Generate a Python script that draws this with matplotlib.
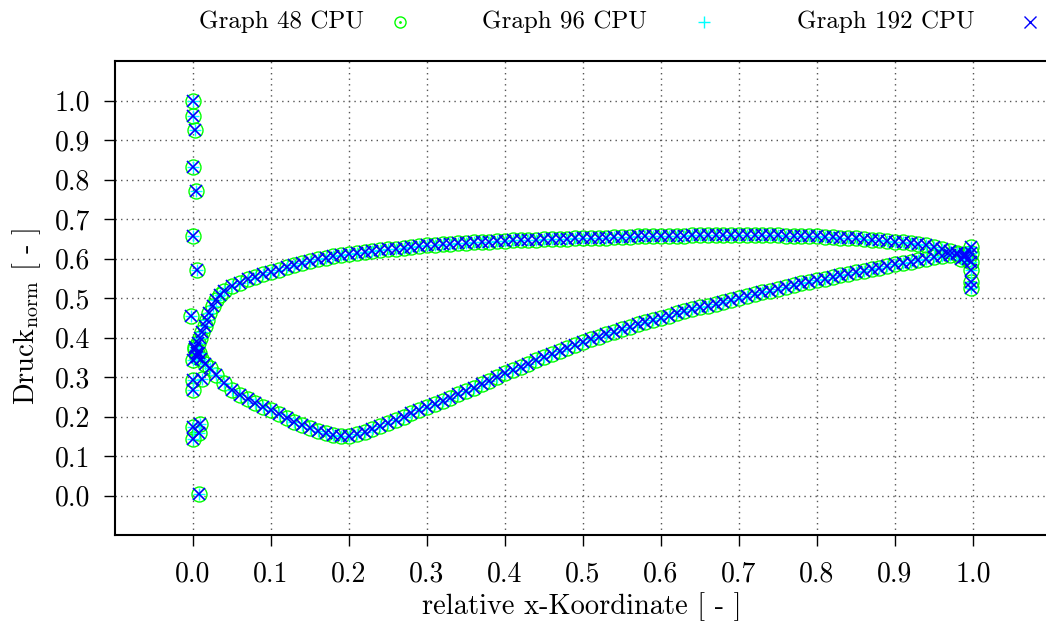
import matplotlib
matplotlib.use("Agg")
import matplotlib.pyplot as plt
from matplotlib.lines import Line2D

# ---------------- data ----------------
x_upper = [0.003, 0.006, 0.009, 0.012, 0.015, 0.018, 0.021, 0.025, 0.030, 0.035,
           0.040, 0.050, 0.060, 0.070, 0.080, 0.090, 0.100, 0.110, 0.120, 0.130,
           0.140, 0.150, 0.160, 0.170, 0.180, 0.190, 0.200, 0.210, 0.220, 0.230,
           0.240, 0.250, 0.260, 0.270, 0.280, 0.290, 0.300, 0.310, 0.320, 0.330,
           0.340, 0.350, 0.360, 0.370, 0.380, 0.390, 0.400, 0.410, 0.420, 0.430,
           0.440, 0.450, 0.460, 0.470, 0.480, 0.490, 0.500, 0.510, 0.520, 0.530,
           0.540, 0.550, 0.560, 0.570, 0.580, 0.590, 0.600, 0.610, 0.620, 0.630,
           0.640, 0.650, 0.660, 0.670, 0.680, 0.690, 0.700, 0.710, 0.720, 0.730,
           0.740, 0.750, 0.760, 0.770, 0.780, 0.790, 0.800, 0.810, 0.820, 0.830,
           0.840, 0.850, 0.860, 0.870, 0.880, 0.890, 0.900, 0.910, 0.920, 0.930,
           0.940, 0.950, 0.960, 0.970, 0.980, 0.990]
p_upper = [0.370, 0.385, 0.400, 0.415, 0.428, 0.445, 0.462, 0.480, 0.495, 0.508,
           0.517, 0.530, 0.539, 0.547, 0.553, 0.560, 0.566, 0.572, 0.578, 0.583,
           0.589, 0.594, 0.598, 0.602, 0.606, 0.609, 0.612, 0.615, 0.617, 0.619,
           0.621, 0.623, 0.625, 0.627, 0.629, 0.631, 0.633, 0.635, 0.636, 0.637,
           0.639, 0.640, 0.641, 0.642, 0.643, 0.644, 0.645, 0.646, 0.647, 0.647,
           0.648, 0.649, 0.649, 0.650, 0.650, 0.651, 0.651, 0.652, 0.653, 0.653,
           0.654, 0.655, 0.655, 0.656, 0.656, 0.657, 0.657, 0.657, 0.658, 0.658,
           0.659, 0.659, 0.659, 0.660, 0.660, 0.660, 0.660, 0.660, 0.660, 0.659,
           0.659, 0.659, 0.658, 0.658, 0.657, 0.657, 0.656, 0.655, 0.654, 0.653,
           0.652, 0.651, 0.650, 0.648, 0.646, 0.645, 0.643, 0.641, 0.638, 0.636,
           0.633, 0.629, 0.625, 0.620, 0.614, 0.607]

x_lower = [0.005, 0.010, 0.016, 0.022, 0.030, 0.040, 0.050, 0.060, 0.070, 0.080,
           0.090, 0.100, 0.110, 0.120, 0.130, 0.140, 0.150, 0.160, 0.170, 0.180,
           0.190, 0.200, 0.210, 0.220, 0.230, 0.240, 0.250, 0.260, 0.270, 0.280,
           0.290, 0.300, 0.310, 0.320, 0.330, 0.340, 0.350, 0.360, 0.370, 0.380,
           0.390, 0.400, 0.410, 0.420, 0.430, 0.440, 0.450, 0.460, 0.470, 0.480,
           0.490, 0.500, 0.510, 0.520, 0.530, 0.540, 0.550, 0.560, 0.570, 0.580,
           0.590, 0.600, 0.610, 0.620, 0.630, 0.640, 0.650, 0.660, 0.670, 0.680,
           0.690, 0.700, 0.710, 0.720, 0.730, 0.740, 0.750, 0.760, 0.770, 0.780,
           0.790, 0.800, 0.810, 0.820, 0.830, 0.840, 0.850, 0.860, 0.870, 0.880,
           0.890, 0.900, 0.910, 0.920, 0.930, 0.940, 0.950, 0.960, 0.970, 0.980,
           0.990]
p_lower = [0.360, 0.345, 0.333, 0.322, 0.305, 0.285, 0.268, 0.255, 0.244, 0.235,
           0.225, 0.216, 0.206, 0.197, 0.187, 0.178, 0.170, 0.163, 0.157, 0.152,
           0.150, 0.151, 0.155, 0.161, 0.168, 0.176, 0.184, 0.192, 0.200, 0.208,
           0.216, 0.224, 0.232, 0.240, 0.248, 0.256, 0.264, 0.273, 0.282, 0.291,
           0.300, 0.309, 0.318, 0.326, 0.334, 0.343, 0.351, 0.359, 0.366, 0.374,
           0.381, 0.388, 0.395, 0.402, 0.409, 0.415, 0.421, 0.427, 0.433, 0.439,
           0.444, 0.450, 0.455, 0.461, 0.466, 0.471, 0.476, 0.481, 0.486, 0.491,
           0.496, 0.500, 0.505, 0.509, 0.514, 0.518, 0.523, 0.527, 0.532, 0.537,
           0.541, 0.545, 0.549, 0.553, 0.557, 0.561, 0.565, 0.569, 0.573, 0.577,
           0.581, 0.585, 0.589, 0.592, 0.596, 0.600, 0.603, 0.606, 0.609, 0.611,
           0.612]

x_edges = [0.000, 0.000, 0.003, 0.000, 0.004, 0.000, 0.005, -0.002,
           0.000, 0.002, 0.008, 0.005,
           0.000, 0.000, 0.011, 0.000, 0.000, 0.009, 0.008, 0.008,
           0.998, 0.998, 0.998, 0.998, 0.998, 0.998, 0.988, 0.985, 0.993]
p_edges = [1.000, 0.960, 0.926, 0.831, 0.770, 0.656, 0.571, 0.454,
           0.343, 0.376, 0.360, 0.350,
           0.292, 0.266, 0.296, 0.173, 0.144, 0.182, 0.157, 0.004,
           0.630, 0.613, 0.590, 0.571, 0.541, 0.525, 0.605, 0.600, 0.600]

series_labels = ["Graph 48 CPU", "Graph 96 CPU", "Graph 192 CPU"]
x_ticks = [0.0, 0.1, 0.2, 0.3, 0.4, 0.5, 0.6, 0.7, 0.8, 0.9, 1.0]
y_ticks = [0.0, 0.1, 0.2, 0.3, 0.4, 0.5, 0.6, 0.7, 0.8, 0.9, 1.0]

# ---------------- style ----------------
plt.rcParams['font.family'] = ['cmr10', 'DejaVu Serif']
plt.rcParams['mathtext.fontset'] = 'cm'
plt.rcParams['axes.unicode_minus'] = False
plt.rcParams['axes.formatter.use_mathtext'] = True

FS = 18
FS_TICK = 20
FS_LAB = 20.5
styles = [
    dict(marker='o', color='#00ff00', ms=10.8, mfc='none', mew=1.0),
    dict(marker='+', color='#00ffff', ms=9.0, mew=1.0),
    dict(marker='x', color='#0000ff', ms=8.6, mew=1.2),
]

W, H = 1046, 627
fig = plt.figure(figsize=(W / 100, H / 100), dpi=100)
ax = fig.add_axes([115 / W, 1 - 535 / H, (1051 - 115) / W, (535 - 61) / H])

xs = x_upper + x_lower + x_edges
ps = p_upper + p_lower + p_edges
for st in styles:
    ax.plot(xs, ps, linestyle='none', **st)

ax.set_xlim(-0.1, 1.1)
ax.set_ylim(-0.1, 1.1)
ax.set_xticks(x_ticks)
ax.set_yticks(y_ticks)
ax.set_xticklabels([f"{v:.1f}" for v in x_ticks])
ax.set_yticklabels([f"{v:.1f}" for v in y_ticks])
ax.tick_params(direction='out', length=8, width=1.0, top=False, right=False,
               labelsize=FS_TICK, color='black')
ax.tick_params(axis='x', pad=11)
ax.tick_params(axis='y', pad=10)
ax.grid(True, color='#555555', linestyle=(0, (1, 3)), linewidth=1.0)
ax.set_axisbelow(True)
for s in ax.spines.values():
    s.set_linewidth(1.5)

fig.text(582 / W, 1 - 607 / H, "relative x-Koordinate [ - ]", ha='center',
         va='center', fontsize=FS_LAB)
fig.text(27 / W, 1 - 316 / H, r"Druck$_{\mathrm{norm}}$ [ - ]", ha='center',
         va='center', fontsize=FS_LAB, rotation=90)

# legend (manual, gnuplot-style: text then sample)
text_right = [364, 647, 975]
mark_x = [400, 704, 1030]
leg_y = 1 - 22 / H
leg_styles = [
    dict(marker='o', color='#00ff00', ms=8, mfc='none', mew=1.0),
    dict(marker='+', color='#00ffff', ms=8, mew=1.0),
    dict(marker='x', color='#0000ff', ms=8, mew=1.0),
]
for lab, tr, mx, st in zip(series_labels, text_right, mark_x, leg_styles):
    fig.text(tr / W, leg_y, lab, ha='right', va='center', fontsize=FS)
    fig.add_artist(Line2D([mx / W], [leg_y], transform=fig.transFigure,
                          linestyle='none', **st))
# centre dot of the circle sample
fig.add_artist(Line2D([mark_x[0] / W], [leg_y], transform=fig.transFigure,
                      linestyle='none', marker='.', color='#00ff00', ms=2))

fig.savefig("out.png", dpi=100)
